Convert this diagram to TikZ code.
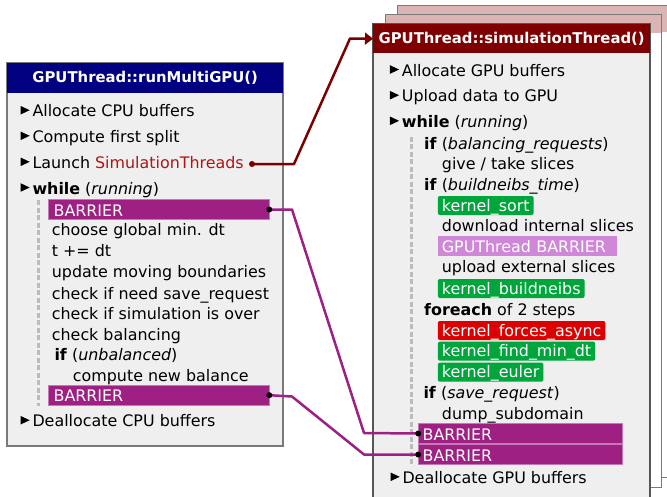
\documentclass[tikz,border=0pt]{standalone}
\usepackage{fontspec}
\setmainfont{DejaVu Sans}
\usetikzlibrary{arrows.meta}
\definecolor{navyhdr}{HTML}{000080}
\definecolor{redhdr}{HTML}{7F0000}
\definecolor{pinkhdr}{HTML}{DBB4B4}
\definecolor{bodyfill}{HTML}{EFEFEF}
\definecolor{barpurple}{HTML}{9E2082}
\definecolor{lightpurple}{HTML}{CF88D8}
\definecolor{kgreen}{HTML}{00A53C}
\definecolor{kred}{HTML}{DD0000}
\definecolor{simred}{HTML}{B01515}
\definecolor{linkred}{HTML}{7A0000}
\definecolor{dashgrey}{HTML}{BBBBBB}
\definecolor{framegrey}{HTML}{7A7A7A}
\definecolor{darkframe}{HTML}{555555}
\begin{document}
\begin{tikzpicture}[x=1pt,y=-1pt,
  every node/.style={font=\fontsize{15.9}{19}\selectfont},
  txt/.style={anchor=base west, inner sep=0pt},
  hdr/.style={text=white, font=\fontsize{14.85}{18}\selectfont\bfseries, inner sep=0pt, anchor=north west},
  kbox/.style={anchor=base west, text=white, rounded corners=2pt, inner xsep=4pt, inner ysep=1pt, text height=14pt, text depth=3pt},
  barbox/.style={anchor=base west, text=white, fill=barpurple, draw=barpurple!60!white, line width=0.6pt, inner ysep=1pt, text height=15.5pt, text depth=2.5pt, align=left},
  tribullet/.pic={\fill (-11.8,-10.8) -- (-11.8,-2.2) -- (-2.6,-6.5) -- cycle;},
  dashline/.style={draw=dashgrey, line width=3.5pt, dash pattern=on 5pt off 2.5pt},
  plink/.style={draw=barpurple, line width=2.5pt, line join=round},
  rlink/.style={draw=linkred, line width=2.5pt, line join=round}
]
\useasboundingbox (0,0) rectangle (667,496);
\fill[white] (0,0) rectangle (667,496);

% ---------------- left frame ----------------
\filldraw[fill=bodyfill, draw=framegrey, line width=1.3pt] (7,63) rectangle (283,446);
\node[hdr, fill=navyhdr, minimum width=276pt, minimum height=30pt] (lh) at (7,63) {GPUThread::runMultiGPU()};

\node[txt] (a1) at (32.3,116.7) {Allocate CPU buffers};
\node[txt] (a2) at (32.3,142.3) {Compute first split};
\node[txt] (a3) at (32.3,168.3) {Launch \textcolor{simred}{SimulationThreads}};
\node[txt] (a4) at (32.3,194) {\textbf{while} (\textit{running})};
\node[txt] (a5) at (32.3,426.7) {Deallocate CPU buffers};
\foreach \n in {a1,a2,a3,a4,a5} \pic at (\n.base west) {tribullet};

\draw[dashline] (38.5,200) -- (38.5,406);

\node[barbox, inner xsep=5.6pt, text width=209.8pt] (lb1) at (47.7,216) {BARRIER};
\node[txt] (l1) at (51.7,235.7) {choose global min. dt};
\node[txt] (l2) at (51.7,256.7) {t += dt};
\node[txt] (l3) at (51.7,277.7) {update moving boundaries};
\node[txt] (l4) at (51.7,299) {check if need save\_request};
\node[txt] (l5) at (51.7,319) {check if simulation is over};
\node[txt] (l6) at (51.7,340) {check balancing};
\node[txt] (l7) at (54.3,360.7) {\textbf{if} (\textit{unbalanced})};
\node[txt] (l8) at (72.7,381.7) {compute new balance};
\node[barbox, inner xsep=5.6pt, text width=209.8pt] (lb2) at (47.7,401.7) {BARRIER};

% ---------------- stacked right frames ----------------
\filldraw[fill=white, draw=framegrey, line width=1pt] (397,5) rectangle (690,477);
\fill[pinkhdr] (397.5,5.5) rectangle (690,32);
\filldraw[fill=white, draw=framegrey, line width=1pt] (385,14) rectangle (661,487);
\fill[pinkhdr] (385.5,14.5) rectangle (660.5,33);
\filldraw[fill=bodyfill, draw=darkframe, line width=1.3pt] (373,24) rectangle (650,510);
\node[hdr, fill=redhdr, minimum width=277pt, minimum height=29pt] (sh) at (373,24) {GPUThread::simulationThread()};

\node[txt] (b1) at (401.7,76) {Allocate GPU buffers};
\node[txt] (b2) at (401.7,101.7) {Upload data to GPU};
\node[txt] (b3) at (401.7,127.3) {\textbf{while} (\textit{running})};
\node[txt] (b4) at (402.3,483.3) {Deallocate GPU buffers};
\foreach \n in {b1,b2,b3,b4} \pic at (\n.base west) {tribullet};

\draw[dashline] (411.7,136.7) -- (411.7,464);

\node[txt] (r1) at (424,149) {\textbf{if} (\textit{balancing\_requests})};
\node[txt] (r2) at (441.7,169.3) {give / take slices};
\node[txt] (r3) at (424,190) {\textbf{if} (\textit{buildneibs\_time})};
\node[kbox, fill=kgreen] (k1) at (437.7,211) {kernel\_sort};
\node[txt] (r4) at (441.7,231.7) {download internal slices};
\node[anchor=base west, text=white, fill=lightpurple, inner xsep=4pt, inner ysep=1pt, text height=15.7pt, text depth=2.3pt, text width=171pt, align=left] (gb) at (437.7,252.7) {GPUThread BARRIER};
\node[txt] (r5) at (441.7,272.7) {upload external slices};
\node[kbox, fill=kgreen] (k2) at (437.7,294) {kernel\_buildneibs};
\node[txt] (r6) at (424,315) {\textbf{foreach} of 2 steps};
\node[kbox, fill=kred] (k3) at (437.7,336) {kernel\_forces\_async};
\node[kbox, fill=kgreen] (k4) at (437.7,356.7) {kernel\_find\_min\_dt};
\node[kbox, fill=kgreen] (k5) at (437.7,377.7) {kernel\_euler};
\node[txt] (r7) at (423.3,398.3) {\textbf{if} (\textit{save\_request})};
\node[txt] (r8) at (441.7,419) {dump\_subdomain};
\node[barbox, inner xsep=4pt, text width=195.7pt] (rb1) at (418.3,440) {BARRIER};
\node[barbox, inner xsep=4pt, text width=195.7pt] (rb2) at (418.3,461) {BARRIER};

% ---------------- connectors ----------------
\coordinate (ldot) at (252,164);
\draw[rlink, -{Triangle[length=8pt,width=12pt]}] (ldot) -- (294,164) -- (350,38.5) -- (sh.west);
\fill[linkred] (ldot) circle (3);

\draw[plink] (lb1.east) -- (292,209.5) -- (364,433) -- (rb1.west);
\draw[plink] (lb2.east) -- (292,396.5) -- (364,454.5) -- (rb2.west);
\foreach \p in {lb1.east, lb2.east, rb1.west, rb2.west} \fill[black] (\p) circle (3);
\end{tikzpicture}
\end{document}
